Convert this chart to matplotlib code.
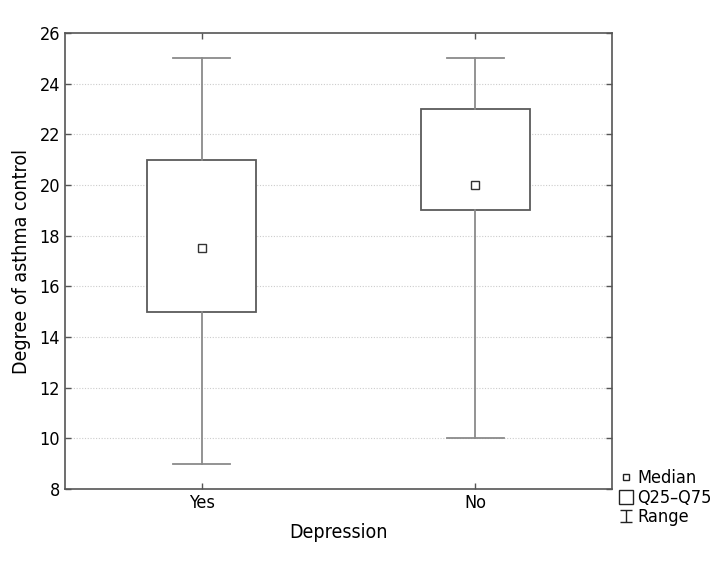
import matplotlib
matplotlib.use("Agg")
import matplotlib.pyplot as plt
from matplotlib.lines import Line2D
from matplotlib.path import Path

plt.rcParams['font.family'] = ['DejaVu Sans']
plt.rcParams['font.stretch'] = 'condensed'

categories = ["Yes", "No"]
medians = [17.5, 20.0]
q25 = [15.0, 19.0]
q75 = [21.0, 23.0]
mins = [9.0, 10.0]
maxs = [25.0, 25.0]
yticks = [8, 10, 12, 14, 16, 18, 20, 22, 24, 26]

fig = plt.figure(figsize=(7.2, 5.71), dpi=100)
ax = fig.add_axes([0.0903, 0.1436, 0.7597, 0.7986])

positions = list(range(len(categories)))
stats = []
for i, c in enumerate(categories):
    stats.append(dict(med=medians[i], q1=q25[i], q3=q75[i],
                      whislo=mins[i], whishi=maxs[i], label=c, fliers=[]))

edge = "#5a5a5a"
wcol = "#8a8a8a"
ax.bxp(stats, positions=positions, widths=0.4, capwidths=0.21,
       showfliers=False, patch_artist=True,
       boxprops=dict(facecolor="white", edgecolor=edge, linewidth=1.3),
       whiskerprops=dict(color=wcol, linewidth=1.3),
       capprops=dict(color=wcol, linewidth=1.3),
       medianprops=dict(visible=False))
ax.plot(positions, medians, linestyle="none", marker="s", markersize=6,
        markerfacecolor="white", markeredgecolor="#333333", markeredgewidth=1.0, zorder=5)

ax.set_xlim(-0.5, 1.5)
ax.set_ylim(8, 26)
ax.set_yticks(yticks)
ax.set_xticks(positions)
ax.set_xticklabels(categories)
for y in yticks[1:-1]:
    ax.axhline(y, color="#cccccc", linestyle=(0, (1, 1.5)), linewidth=0.8, zorder=0)

ax.tick_params(direction="in", top=True, right=True, length=4, width=1,
               color="#555555", labelsize=13)
for s in ax.spines.values():
    s.set_color("#555555")
    s.set_linewidth(1.2)

ax.set_xlabel("Depression", fontsize=14, labelpad=8)
ax.set_ylabel("Degree of asthma control", fontsize=14, labelpad=6)

ibeam = Path([(-1, 1), (1, 1), (0, 1), (0, -1), (-1, -1), (1, -1)],
             [Path.MOVETO, Path.LINETO, Path.MOVETO, Path.LINETO, Path.MOVETO, Path.LINETO])
handles = [
    Line2D([], [], linestyle="none", marker="s", markersize=5, markerfacecolor="white",
           markeredgecolor="#222222", markeredgewidth=1.0),
    Line2D([], [], linestyle="none", marker="s", markersize=10, markerfacecolor="white",
           markeredgecolor="#222222", markeredgewidth=1.0),
    Line2D([], [], linestyle="none", marker=ibeam, markersize=9, markerfacecolor="none",
           markeredgecolor="#222222", markeredgewidth=1.0),
]
leg = fig.legend(handles, ["Median", "Q25\u2013Q75", "Range"], loc="lower left",
                 bbox_to_anchor=(0.861, 0.078), frameon=False, fontsize=13,
                 handlelength=0.7, handleheight=0.6, handletextpad=0.25, labelspacing=0.1,
                 borderpad=0, borderaxespad=0)

fig.savefig("out.png", dpi=100)
